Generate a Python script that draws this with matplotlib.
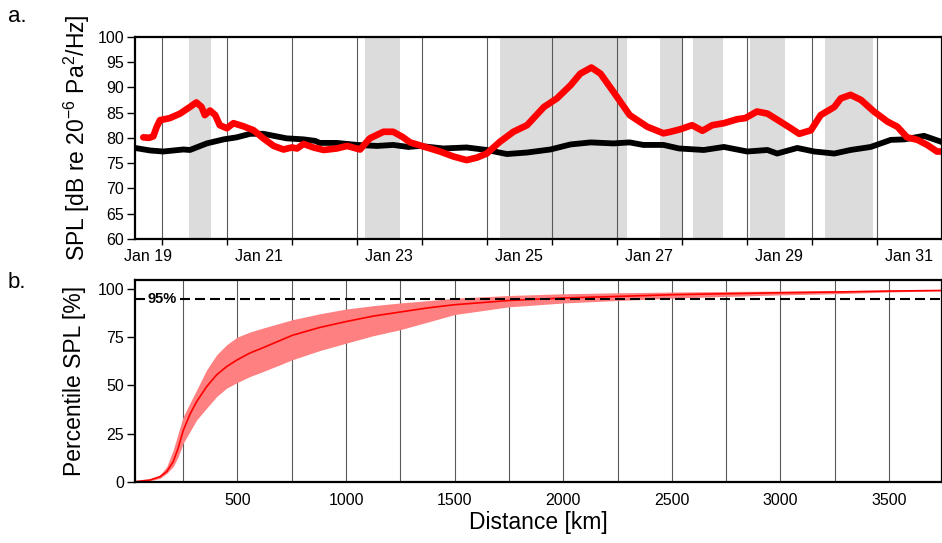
import numpy as np
import matplotlib
matplotlib.use("Agg")
import matplotlib.pyplot as plt
import matplotlib.dates as mdates
from matplotlib.ticker import FixedLocator, FuncFormatter

plt.rcParams["font.family"] = ["Liberation Sans", "DejaVu Sans"]
plt.rcParams["mathtext.fontset"] = "custom"
plt.rcParams["mathtext.rm"] = "Liberation Sans"
plt.rcParams["mathtext.it"] = "Liberation Sans:italic"
plt.rcParams["mathtext.bf"] = "Liberation Sans:bold"

# ---- panel a: SPL time series (days since Jan 19 00:00) ----
start_date = np.datetime64("2019-01-19T00:00")

red_days = [0.713, 0.80, 0.867, 0.92, 0.97, 1.12, 1.28, 1.43, 1.53, 1.61, 1.66, 1.74,
            1.82, 1.89, 2.0, 2.1, 2.25, 2.41, 2.56, 2.72, 2.87, 3.0, 3.08, 3.18, 3.33,
            3.49, 3.69, 3.85, 4.05, 4.2, 4.41, 4.56, 4.70, 4.82, 5.0, 5.28, 5.49, 5.69,
            5.85, 6.0, 6.2, 6.41, 6.62, 6.88, 7.08, 7.29, 7.44, 7.61, 7.75, 7.95, 8.2,
            8.47, 8.72, 8.83, 8.98, 9.16, 9.32, 9.47, 9.65, 9.86, 9.98, 10.16, 10.32,
            10.52, 10.68, 10.81, 10.99, 11.14, 11.35, 11.45, 11.6, 11.76, 11.96, 12.17,
            12.32, 12.47, 12.63, 12.78, 12.93, 13.0]
red_spl = [80.1, 80.0, 80.3, 82.2, 83.5, 83.9, 84.8, 86.1, 87.0, 86.1, 84.5, 85.4,
           84.5, 82.5, 81.9, 82.9, 82.3, 81.5, 79.9, 78.4, 77.7, 78.1, 77.9, 78.8, 78.1,
           77.6, 77.9, 78.4, 77.7, 79.9, 81.2, 81.2, 80.2, 79.1, 78.4, 77.3, 76.3, 75.6,
           76.1, 76.9, 79.2, 81.2, 82.5, 86.1, 87.8, 90.4, 92.7, 93.9, 92.7, 89.1, 84.5,
           82.2, 80.9, 81.2, 81.7, 82.5, 81.4, 82.5, 82.9, 83.7, 83.9, 85.2, 84.8,
           83.2, 81.9, 80.8, 81.5, 84.5, 86.1, 87.8, 88.5, 87.5, 85.2, 83.2,
           82.2, 80.1, 79.6, 78.6, 77.3, 77.3]

black_days = [0.585, 0.82, 1.02, 1.33, 1.43, 1.69, 1.95, 2.15, 2.36, 2.56, 2.72, 2.92,
              3.18, 3.36, 3.43, 3.69, 4.0, 4.31, 4.56, 4.79, 4.97, 5.33, 5.69, 6.0,
              6.31, 6.62, 6.98, 7.29, 7.6, 7.95, 8.2, 8.41, 8.72, 8.96, 9.34, 9.65,
              10.01, 10.32, 10.47, 10.78, 11.04, 11.35, 11.6, 11.91, 12.22, 12.43,
              12.73, 13.0]
black_spl = [78.0, 77.5, 77.3, 77.7, 77.6, 78.9, 79.7, 80.1, 80.8, 80.8, 80.4, 79.9,
             79.7, 79.4, 79.0, 79.0, 78.6, 78.4, 78.6, 78.2, 78.4, 77.9, 78.1, 77.6,
             76.8, 77.1, 77.7, 78.7, 79.1, 78.9, 79.1, 78.6, 78.6, 77.9, 77.6, 78.2,
             77.3, 77.6, 76.9, 78.0, 77.3, 76.9, 77.6, 78.2, 79.6, 79.7,
             80.4, 79.2]

shade_start = [1.418, 4.12, 6.21, 8.66, 9.17, 10.05, 11.21]
shade_end = [1.752, 4.67, 8.16, 9.0, 9.63, 10.59, 11.95]

label_days = [0.79, 2.5, 4.5, 6.5, 8.5, 10.5, 12.5]
x_start_day, x_end_day = 0.585, 13.0

# ---- panel b: cumulative percentile vs distance ----
distance_km = [28, 97, 143, 174, 204, 227, 250, 281, 312, 358, 404, 450, 499, 557,
               618, 752, 879, 1002, 1125, 1248, 1386, 1500, 1750, 2000, 2250, 2500,
               2750, 3000, 3250, 3500, 3742]
pct_median = [0, 0.9, 2.6, 5.2, 10.4, 17.5, 26.5, 35.0, 41.6, 49.4, 55.5, 59.8, 63.3,
              66.8, 69.6, 76.0, 80.1, 83.2, 86.0, 88.1, 90.4, 91.9, 94.1, 95.4, 96.2,
              97.1, 97.6, 98.1, 98.5, 99.0, 99.3]
pct_upper = [0, 1.2, 3.5, 7.8, 16.5, 25.2, 33.8, 40.8, 47.7, 58.1, 65.9, 71.1, 75.1,
             77.7, 79.8, 84.1, 87.2, 89.7, 91.4, 92.8, 94.1, 95.3, 96.7, 97.6, 98.1,
             98.5, 98.8, 99.0, 99.2, 99.4, 99.5]
pct_lower = [0, 0.5, 1.7, 4.3, 7.8, 13.0, 20.0, 26.0, 32.1, 38.2, 44.2, 48.6, 51.5,
             54.6, 57.2, 63.3, 68.1, 72.0, 75.8, 78.9, 83.2, 86.8, 90.8, 92.8, 94.1,
             95.3, 96.2, 97.0, 97.6, 98.5, 99.1]
threshold = 95


def to_num(days):
    base = mdates.date2num(start_date)
    return base + np.asarray(days, dtype=float)


W, H = 942, 543
fig = plt.figure(figsize=(W / 100, H / 100), dpi=100)

ax_a = fig.add_axes([135 / W, 1 - 239 / H, (941.5 - 135) / W, (239 - 36.7) / H])
ax_b = fig.add_axes([135 / W, 1 - 481.7 / H, (941.5 - 135) / W, (481.7 - 279.5) / H])

grid_col = "#5a5a5a"
tick_fs = 11.5
label_fs = 16.5

# panel a
for s, e in zip(shade_start, shade_end):
    ax_a.axvspan(to_num(s), to_num(e), color="#dcdcdc", lw=0, zorder=0)

day_bounds = np.arange(1, 13)
for d in day_bounds:
    ax_a.axvline(to_num(d), color=grid_col, lw=0.8, zorder=1)

ax_a.plot(to_num(black_days), black_spl, color="black", lw=4.2,
          solid_capstyle="round", solid_joinstyle="round", zorder=3)
ax_a.plot(to_num(red_days), red_spl, color="#ff0000", lw=4.8,
          solid_capstyle="round", solid_joinstyle="round", zorder=4)

ax_a.set_xlim(to_num(x_start_day), to_num(x_end_day))
ax_a.set_ylim(60, 100)
ax_a.set_yticks(np.arange(60, 101, 5))
ax_a.xaxis.set_major_locator(FixedLocator(to_num(day_bounds)))
ax_a.xaxis.set_major_formatter(FuncFormatter(lambda v, p: ""))
ax_a.xaxis.set_minor_locator(FixedLocator(to_num(label_days)))
ax_a.xaxis.set_minor_formatter(mdates.DateFormatter("%b %d"))
ax_a.tick_params(axis="x", which="major", length=4, width=1, direction="out")
ax_a.tick_params(axis="x", which="minor", length=0, labelsize=tick_fs, pad=7)
ax_a.tick_params(axis="y", length=6, width=1, labelsize=tick_fs, pad=2)
ax_a.set_ylabel("SPL [dB re 20$^{-6}$ Pa$^2$/Hz]", fontsize=label_fs, labelpad=4)

# panel b
for g in np.arange(250, 3750, 250):
    ax_b.axvline(g, color=grid_col, lw=0.8, zorder=1)
ax_b.fill_between(distance_km, pct_lower, pct_upper, color="#ff8080", lw=0, zorder=2)
ax_b.plot(distance_km, pct_median, color="#ff0000", lw=1.2, zorder=3)
ax_b.axhline(threshold, color="black", lw=1.5, ls=(0, (4.8, 2.4)), zorder=4)
ax_b.text(12 / 806.5, threshold, "95%", fontsize=10.5, fontweight="bold",
          va="center", ha="left", zorder=5, transform=ax_b.get_yaxis_transform(),
          bbox=dict(facecolor="white", edgecolor="none", pad=1.0))
ax_b.set_xlim(28, 3742)
ax_b.set_ylim(0, 105)
ax_b.set_xticks(np.arange(500, 3501, 500))
ax_b.set_yticks([0, 25, 50, 75, 100])
ax_b.tick_params(axis="x", length=0, labelsize=tick_fs, pad=8)
ax_b.tick_params(axis="y", length=6, width=1, labelsize=tick_fs, pad=2)
ax_b.set_xlabel("Distance [km]", fontsize=label_fs, labelpad=2)
ax_b.set_ylabel("Percentile SPL [%]", fontsize=label_fs, labelpad=8)

for ax in (ax_a, ax_b):
    for sp in ax.spines.values():
        sp.set_linewidth(1.6)
        sp.set_zorder(6)

fig.text(8 / W, 1 - 21.7 / H, "a.", fontsize=16, ha="left", va="baseline")
fig.text(8 / W, 1 - 288 / H, "b.", fontsize=16, ha="left", va="baseline")

fig.savefig("out.png", dpi=100)
